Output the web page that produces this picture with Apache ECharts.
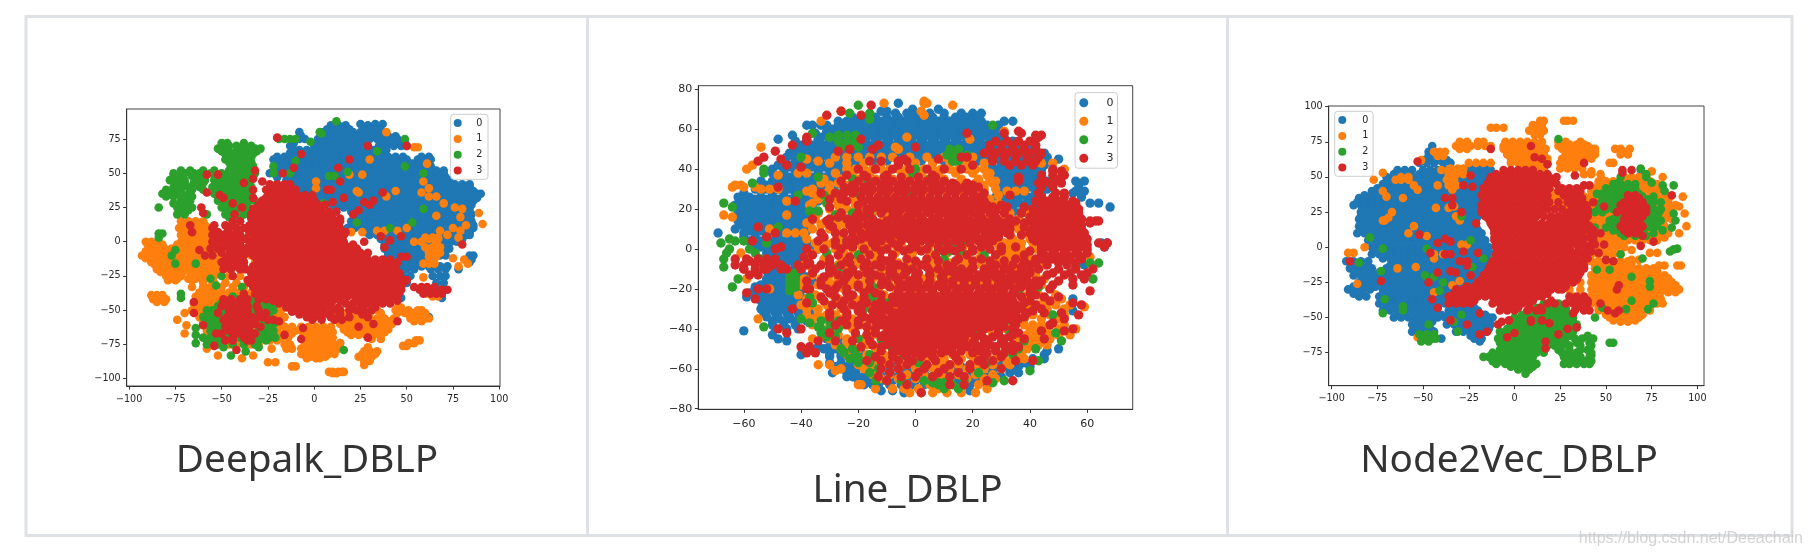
<!DOCTYPE html>
<html><head><meta charset="utf-8">
<style>html,body{margin:0;padding:0;background:#fff}#c{width:1810px;height:556px}</style>
<script src="https://cdn.jsdelivr.net/npm/echarts@6/dist/echarts.min.js"></script>
</head><body><div id="c"></div>
<script>
// Every row is [y, x, x, x ...].
const seriesNames=['0','1','2','3'];
const seriesColors=['#1f77b4','#ff7f0e','#2ca02c','#d62728'];
const captions=['Deepalk_DBLP','Line_DBLP','Node2Vec_DBLP'];
const watermark='https://blog.csdn.net/Deeachain';
const ticksX1=[-100,-75,-50,-25,0,25,50,75,100];
const ticksY1=[-100,-75,-50,-25,0,25,50,75];
const ticksX2=[-60,-40,-20,0,20,40,60];
const ticksY2=[-80,-60,-40,-20,0,20,40,60,80];
const ticksX3=[-100,-75,-50,-25,0,25,50,75,100];
const ticksY3=[-75,-50,-25,0,25,50,75,100];

const deepwalk_0=[[86,25,33,37],[85,9,13,17,29],[80,-8,5,9,13,17,21,25,29,33,37],
[75,-8,-5,2,6,10,14,18,22,26,30,34,38,42,45],[70,-13,0,4,8,12,16,20,24,35,39,43,47,50],
[65,-13,-9,-6,-2,2,6,10,14,18,22,26,30,34,38],
[60,-22,-18,-14,-10,-6,-2,2,6,10,14,18,22,26,30,34,38,42,46,50,56,60,63],
[55,-21,-17,-13,-9,-5,-1,3,7,11,15,19,23,27,31,35,39,43,47,51,55,59,63],
[50,-24,-20,-16,-12,-8,-4,0,4,8,12,16,20,24,28,32,36,40,44,48,52,56,60,64,68,70],
[45,-15,-11,-7,-3,1,5,9,13,17,21,25,29,33,37,41,45,49,53,57,61,65,69,73],
[40,-10,-6,-2,2,6,10,14,18,22,26,30,34,38,42,46,50,54,58,62,66,70,73,77,81,84],
[35,-4,0,4,8,12,16,20,24,28,32,36,40,44,48,52,56,60,64,68,72,76,80,84,88,90],
[30,2,6,10,14,18,22,26,30,34,38,42,46,50,54,58,62,66,70,74,78,82,86],
[25,12,16,20,24,28,32,36,40,44,48,52,56,60,64,68,72,76,80,84],
[20,22,26,30,34,38,42,46,50,54,58,62,66,70,74,78,82,85],
[15,20,24,28,32,36,40,44,48,52,56,60,64,68,72,76,80,85],
[10,18,22,26,30,34,38,42,46,50,54,58,62,66,70,74,78,82,86],
[5,30,34,38,42,46,50,54,58,62,66,70,74,78,82,84],
[0,38,42,46,50,54,58,62,66,70,74,77],[-5,38,42,46,50,54,58,62,66,70,73],
[-10,40,44,48,52,56,60,64,68,71,84,86],[-15,42,46,50,54,58,84],[-20,46,50,54,63,67,71,78],
[-25,48,52,64,68,71],[-30,50,66,70],[-35,68],[-41,47,69],[3,-36],[-36,-60],[-57,-19],[-74,-36,14],[-55,62]];
const deepwalk_0_fill=[[82,7,11,15,19,27,31,35],[77,-7,4,8,12,16,20,24,28,32,36,40,44],[72,-11,2,6,10,14,18,22,26,37,41,45,49],[67,-11,-8,-4,0,4,8,12,16,20,24,28,32,36,39],
[62,-20,-16,-12,-8,-4,0,4,8,12,16,20,24,28,32,36,40,44,48,58,62],[57,-19,-15,-11,-7,-3,1,5,9,13,17,21,25,29,33,37,41,45,49,53,57,61],
[52,-22,-18,-14,-10,-6,-2,2,6,10,14,18,22,26,30,34,38,42,46,50,54,58,62,66,70],[47,-20,-13,-9,-5,-1,3,7,11,15,19,23,27,31,35,39,43,47,51,55,59,63,67,71],
[42,-12,-8,-4,0,4,8,12,16,20,24,28,32,36,40,44,48,52,56,60,64,68,72,76,80,84],[37,-6,-2,2,6,10,14,18,22,26,30,34,38,42,46,50,54,58,62,66,70,74,78,82,86],
[32,0,4,8,12,16,20,24,28,32,36,40,44,48,52,56,60,64,68,72,76,80,84,88],[27,10,14,18,22,26,30,34,38,42,46,50,54,58,62,66,70,74,78,82,85],
[22,20,24,28,32,36,40,44,48,52,56,60,64,68,72,76,80,84],[17,22,26,30,34,38,42,46,50,54,58,62,66,70,74,78,82,84],[12,20,24,28,32,36,40,44,48,52,56,60,64,68,72,76,80,84,86],
[7,28,32,36,40,44,48,52,56,60,64,68,72,76,80,84],[2,36,40,44,48,52,56,60,64,68,72,76,80],[-3,38,42,46,50,54,58,62,66,70,72],[-8,40,44,48,52,56,60,64,68,70],[-13,42,46,50,54,58,60,85],[-18,46,50,54,58,62,68,72]];

const deepwalk_1=[[15,-72,-68,-64,-60],[10,-73,-69,-65,-61,-57],[5,-72,-68,-64,-60,-56,-52,-46,-40,-34,-28],
[0,-91,-88,-84,-72,-68,-64,-60,-56,-52,-46,-40,-34,-28],[-5,-89,-85,-81,-77,-73,-69,-65,-61,-57,-53,-50,-44,-38,-32],
[-10,-93,-90,-86,-82,-78,-74,-70,-66,-62,-58,-54,-47,-40,-34],[-15,-88,-84,-80,-76,-72,-68,-64,-60,-56,-52,-48,-44,-38,-32],
[-20,-85,-81,-77,-73,-69,-65,-61,-57,-53,-49,-45,-38],[-25,-80,-76,-72,-66,-62,-58,-54,-46,-40],[-28,-79,-75,-66],
[-33,-66,-60,-56,-50,-44,-38],[-39,-88,-85,-82],[-42,-87,-83,-80],[-44,-85,-81],
[-37,-62,-58,-54,-50,-46,-42,-38,-34],[-40,-64,-60,-56,-52,-48,-44,-40,-36,-32,-28],
[-45,-65,-61,-57,-53,-49,-45,-41,-37,-33,-29,-25,-22],[-50,-66,-62,-58,-54,-50,-46,-42,-38,-34,-30,-26,-22,-18],
[-55,-62,-58,-54,-50,-46,-42,-38,-34,-30,-26,-22,-18,-16],[-60,-60,-56,-52,-48,-44,-40,-36,-32,-28,-24,-20,-18],
[-65,-58,-54,-50,-46,-42,-38,-34,-30,-26,-22,-20,-14,-10],[-70,-55,-51,-47,-43,-39,-35,-31,-27,-23,-18,-14],
[-75,-50,-46,-42,-38,-34,-30,-16,-13],[-57,-74],[-52,-70],[-61,-69],[-67,-70],[-78,-58,-23,-15,-12],[-83,-52,-33],[-85,-39],
[-88,-25,-21],[-91,-12,-10],
[-62,-7,-3,1,5,9],[-66,-6,-2,2,6,10],[-70,-6,-2,2,6,10],[-74,-5,-1,3,7,10,14],[-78,-7,-3,1,5,9,13],[-82,-7,-4,0,4,8,11],[-85,-4,1,3],
[-95,8,10,13,15,16],[-96,10,12],
[-50,14,34,44,51,56,58],[-52,12,17,21,25,30,36,45,49,54,60],[-56,14,18,22,26,30,34,38,43,52,56,60,62],[-60,14,18,22,26,30,34,38,42],
[-64,16,20,24,28,32,36,40],[-68,20,24,28,32,36],[-71,31,36],[-48,45,47],[-72,55,57],[-74,51,54],[-76,48,50],
[-80,27,30,34],[-84,24,27,31],[-87,27,30],[-90,27],[-77,29],
[80,39],[69,54,56],[60,30],[57,61],[49,19,26],[44,1,59],[39,1,62],[37,23,44],[36,58,24],[33,39,62,66],[28,70],[25,76],[24,80],[19,66],[18,79],[21,89],[13,91],
[12,82],[10,75,50],[8,45,34,38,68,79],[7,20,26],[6,16],[5,72],[3,78,60,64,67],[2,67,62],[0,54,58,66],[-4,60,64,68],[-8,62,65,68],[-11,62,66],[-12,75],[-13,81],[-18,78],[-16,83,59,62,65],[-26,59],[-40,64,67],[-38,61]];
const deepwalk_1_fill=[[12,-71,-67,-63,-59],[8,-71,-67,-63,-59,-55],[3,-70,-66,-62,-58,-54,-50],[-2,-90,-86,-82,-74,-70,-66,-62,-58,-54,-50],[-7,-91,-87,-83,-79,-75,-71,-67,-63,-59,-55,-51],
[-12,-91,-87,-84,-80,-76,-72,-68,-64,-60,-56,-52],[-17,-86,-82,-78,-74,-70,-66,-62,-58,-54,-50],[-22,-83,-79,-75,-71,-67,-63,-59,-55,-51],[-27,-78,-74,-68,-64,-60,-56],
[-30,-60,-54,-48,-42,-30,-24],[-42,-62,-58,-54,-50],[-47,-63,-59,-55,-51,-20],[-52,-64,-60,-56,-20],[-57,-60,-56,-52,-18],[-62,-58,-54,-20,-16,-12],[-67,-56,-52,-22,-16,-12],[-72,-52,-48,-44,-24,-20],
[-64,-3,1,5,9],[-68,-4,0,4,8],[-72,-3,1,5,9],[-76,-3,1,5,9,13],[-80,-5,-1,3,7,11],[-84,-2,2,6],[-58,16,20,24,28,32,36,40],[-62,16,20,24,28,32,36,40],[-66,18,22,26,30,34,38],[-82,26,29,33],[-54,52,58,60],[-58,54,58]];

const deepwalk_2=[[72,-50,-47,-38],[68,-52,-47,-40,-36,-32,-29],[64,-48,-44,-40,-37,-33],[60,-48,-44,-40,-36],[55,-45,-41,-37,-33,-22],
[50,-76,-70,-65,-62,-56,-50,-45,-41,-37,-32,-22,-13],[45,-78,-74,-70,-63,-59,-54,-50,-46,-42,-38,-34],
[40,-76,-72,-68,-62,-55,-50,-46,-42,-38,-34],[35,-82,-78,-74,-68,-54,-50,-46,-42,-38,-34],[30,-72,-67,-52,-47,-42,-37,-32],
[25,-84,-74,-70,-66,-50,-46,-42,-38],[20,-74,-70,-58,-48,-44,-38,-30],[75,-19,-16,-13,-10],[73,-2],[80,3],[79,4],[88,12],[66,34],[75,49],[55,49],[50,59],[24,59],[14,53],[10,41],[14,23],[28,5],[48,8,11],[51,18],[59,-10],[21,-4],[6,-84,-82],[3,-84],[-6,-75],[-10,-77],[-16,-75,-64],[-27,-56],[-32,-53],[-25,-50],[-38,-72],[-41,-72],[-33,-39],[-79,16],
[-40,-44,-38,-32,-28],[-45,-50,-44,-40,-34,-28,-24,-21],[-50,-58,-55,-48,-42,-36,-30,-25,-22],[-55,-60,-56,-52,-46,-38,-28,-24],[-60,-58,-54,-50,-44,-36,-28,-22],[-63,-64],[-65,-56,-52,-46,-40,-30,-26,-22],[-68,-64],[-70,-60,-56,-52,-48,-40,-34,-28,-24,-21],[-74,-64],[-75,-58,-52,-44,-38,-32],[-77,-49,-30],[-80,-37],[-83,-45]];
const deepwalk_2_fill=[[70,-50,-46,-42,-38,-34],[66,-50,-46,-42,-38,-34,-31],[62,-46,-42,-38,-34],[58,-46,-42,-38,-34],[52,-72,-67,-60,-54,-46,-42,-38,-34],[48,-76,-72,-66,-60,-52,-48,-44,-40,-36],
[43,-74,-70,-65,-60,-52,-48,-44,-40,-36],[38,-80,-76,-72,-66,-60,-52,-48,-44,-40,-36],[33,-80,-76,-70,-66,-52,-48,-44,-40,-36],[28,-76,-72,-68,-48,-44,-40,-36],[23,-72,-68,-46,-42,-36,-32],[18,-46,-40,-34],
[-42,-42,-36,-30],[-47,-52,-46,-38,-32,-26],[-52,-56,-50,-44,-38,-32,-26],[-57,-58,-54,-48,-42,-30,-26],[-62,-56,-52,-46,-38,-30,-24],[-67,-54,-48,-42,-34,-28,-24],[-72,-56,-50,-38,-30,-26]];

const deepwalk_3=[[76,-20],[70,29,50],[64,-7],[60,19],[54,-11,13],[52,-32],[50,-17],[49,-58,-52],[46,-33],[44,-28,14],[43,-38],
[42,-24,-20,-16,-13],[38,-33,-26,-22,-18,-14,-10,7,9],[36,-58,37],[34,-51,-25,-21,-17,-13,-9,-5,-1],[32,-49,-33,16],[30,-28,-24,-20,-16,-12,-8,-4,0,32],[29,10,27],[28,-44],[27,30],
[25,-61,-39,-28,-24,-20,-16,-12,-8,-4,0,4],[24,-33],[23,24],[21,-60],[20,-43,-34,-31,-27,-23,-19,-15,-11,-7,-3,1,5,9,21],
[15,-44,-40,-33,-29,-25,-21,-17,-13,-9,-5,-1,3,7,11,14],[12,-67],[10,-55,-46,-42,-38,-33,-29,-25,-21,-17,-13,-9,-5,-1,3,7,11,14],[7,-66],
[5,-55,-50,-45,-40,-31,-27,-23,-19,-15,-11,-7,-3,1,5,9,13,16],[4,36,47],[1,41],
[0,-55,-50,-44,-40,-35,-31,-27,-23,-19,-15,-11,-7,-3,1,5,9,13,16,27],[-2,21,80],[-4,38],
[-5,-56,-52,-46,-42,-38,-33,-29,-25,-21,-17,-13,-9,-5,-1,3,7,11,15,19,23],[-6,-62],
[-10,-59,-55,-46,-42,-38,-33,-29,-25,-21,-17,-13,-9,-5,-1,3,7,11,15,19,23,27],[-11,47,50],
[-15,-50,-46,-42,-38,-29,-25,-21,-17,-13,-9,-5,-1,3,7,11,15,19,23,27,31,35,39,45],
[-20,-49,-45,-40,-37,-31,-27,-23,-19,-15,-11,-7,-3,1,5,9,13,17,21,25,29,33,37,41,44],
[-25,-44,-33,-29,-25,-21,-17,-13,-9,-5,-1,3,7,11,15,19,23,27,31,35,39,43,46],
[-30,-35,-31,-27,-23,-19,-15,-11,-7,-3,1,5,9,13,17,21,25,29,33,37,41,45,48],
[-33,54,58,61,65],[-35,-31,-27,-23,-19,-15,-11,-7,-3,1,5,9,13,17,21,25,29,33,37,41,45,47,57,61,65,69,72],[-38,-38,-32,-30,59,63,66,69],
[-40,-26,-22,-18,-14,-10,-6,-2,2,6,10,14,18,22,26,30,34,38,42,45],[-42,-49,-45,-40,-36,-30,-26],[-44,-65,-16],
[-45,-19,-15,-11,-7,-3,1,5,9,17,21,25,29,33,37,41],[-47,-50,-44,-40,-36,-31],[-50,-11,-7,-3,1,5,10,14,19,23,27,31],[-51,-12],[-52,-65,-52,-44,-40,-36,-30,-26],
[-55,-4,0,4,9,13,19,29],[-57,-49,-44,-40,-36,-32,-25,-22,-1,4,11,15],[-58,-19,45],[-60,32],[-61,-60],[-62,-48,-43,-39,-35,-29,24],[-63,-6],[-67,-53,-50,-43,-40,-36,-32],[-68,-16],[-70,29],[-71,-7],[-72,-48,-44,-36,-34],[-76,-54],[-79,-42]];
const deepwalk_3_fill=[[40,-22,-18,-14],[32,-26,-22,-18,-14,-10,-6,-2],[27,-30,-26,-22,-18,-14,-10,-6,-2,2,6],[22,-32,-28,-24,-20,-16,-12,-8,-4,0,4,8,12],[17,-34,-30,-26,-22,-18,-14,-10,-6,-2,2,6,10,14],
[12,-54,-48,-44,-35,-31,-27,-23,-19,-15,-11,-7,-3,1,5,9,13],[7,-52,-47,-42,-35,-31,-27,-23,-19,-15,-11,-7,-3,1,5,9,13,17],[2,-52,-47,-42,-37,-33,-29,-25,-21,-17,-13,-9,-5,-1,3,7,11,15],
[-3,-54,-48,-44,-40,-35,-31,-27,-23,-19,-15,-11,-7,-3,1,5,9,13,17,21],[-8,-50,-44,-40,-36,-31,-27,-23,-19,-15,-11,-7,-3,1,5,9,13,17,21,25,29],
[-13,-48,-44,-40,-31,-27,-23,-19,-15,-11,-7,-3,1,5,9,13,17,21,25,29,33,37,41],[-18,-47,-42,-38,-33,-29,-25,-21,-17,-13,-9,-5,-1,3,7,11,15,19,23,27,31,35,39,43],
[-23,-34,-30,-26,-22,-18,-14,-10,-6,-2,2,6,10,14,18,22,26,30,34,38,42,46],[-28,-36,-32,-28,-24,-20,-16,-12,-8,-4,0,4,8,12,16,20,24,28,32,36,40,44,48,50],
[-33,-33,-29,-25,-21,-17,-13,-9,-5,-1,3,7,11,15,19,23,27,31,35,39,43,47],[-37,-28,-24,-20,-16,-12,-8,-4,0,4,8,12,16,20,24,28,32,36,40,44,46,60,64,68],
[-43,-22,-18,-14,-10,-6,-2,2,6,10,14,24,28,32,36,40,45],[-48,-15,-11,-7,-3,1,5,9,13,20,26,33],[-53,-8,-4,0,4,8,14,26],
[-45,-48,-42,-38],[-50,-46,-40,-36,-30],[-55,-47,-42,-38,-34,-28],[-60,-46,-42,-38,-32],[-65,-46,-40,-35],[-70,-44,-38]];

const line_0=[[73,-6],[70,-1,8],[69,-12,-10],[68,-7,-3,0,5,10,16,20,23],[64,-27,-24,-20,-16,-12,-8,-4,0,4,8,12,16,20,23,31,34],[62,-38,-36,-33],
[60,-29,-25,-21,-17,-13,-9,-5,-1,3,7,11,15,19,23,27],[57,-43],[56,-33,-29,-25,-21,-17,-13,-9,-5,-1,3,7,11,15,19,23,27,31],[55,-48],
[52,-40,-36,-32,-28,-24,-20,-16,-12,-8,-4,0,4,8,12,16,20,24,28,32,36,40],
[48,-44,-40,-36,-32,-28,-24,-20,-16,-12,-8,-4,0,4,8,12,16,20,24,28,32,36,40,45],[45,50],
[44,-46,-42,-38,-34,-30,-26,-22,-18,-14,-10,-6,-2,2,6,10,14,18,22,26,30,34,38,42,45],
[40,-50,-46,-42,-38,-34,-30,-26,-22,28,32,36,40,44],[36,-48,-44,-40,-36,-32,-28,30,34,38,42,44],
[32,-52,-48,-44,-40,-36,-32,-28,36,40,44,57],[34,56,59],[29,56,59],[28,-60,-50,-46,-42,-38,-34,-30,30,34,38,42,44,55],
[24,-61,-58,-54,-50,-46,-42,-38,-34,31,35,39,43],[23,61,64],[21,68],
[20,-62,-58,-54,-50,-46,-42,-38,30,34,38],[16,-60,-56,-52,-48,-44,-40,-36],[12,-61,-57,-53,-49,-45,-41,-37],[8,-69,-60,-56,-52,-48,-44,-40],
[4,-58,-54,-50,-46,-42,-38],[3,65,67],[0,-50,-46,-42,-38,-34],[1,66],[-4,-50,-46,-42,-38],[-8,-50,-46,-42,59],[-12,-48,-44,-40],[-16,-52,-48,-44,-40,-36],
[-20,-56,-52,-48,-44,-40],[-24,-59,-56,-52,-48,-44,-40],[-25,55],[-28,-52,-48,-44,-40,-36],[-31,55],[-32,-53,-49,-45,-41,-37],[-36,-50,-46,-42,-38],
[-40,-49,-45,-41],[-41,-60],[-43,-50],[-45,-48,-31,-27],[-46,-45],[-49,-34,-30,-26,-22],[-50,50],[-51,46],[-53,-40,-30,-26,-22,-18,45],[-55,45,41],
[-57,-30,-26,-22,-18,-14,-10,20,25,30,34,38],[-62,-29,-24,-21,-17,-13,-9,-5,-1,3,7,11,15,19,23,27,33,36],
[-66,-20,-16,-12,-8,-4,0,4,8,12,16,20,24,27],[-68,-15],[-71,-12,-8,-4,19],[-72,-4]];
const line_0_fill=[[66,-22,-18,-14,-10,-6,-2,2,6,10,14,18,22],[62,-31,-27,-23,-19,-15,-11,-7,-3,1,5,9,13,17,21,25,29],[58,-35,-31,-27,-23,-19,-15,-11,-7,-3,1,5,9,13,17,21,25,29],
[54,-42,-38,-34,-30,-26,-22,-18,-14,-10,-6,-2,2,6,10,14,18,22,26,30,34],[50,-42,-38,-34,-30,-26,-22,-18,-14,-10,-6,-2,2,6,10,14,18,22,26,30,34,38,42],
[46,-45,-41,-37,-33,-29,-25,-21,-17,-13,-9,-5,-1,3,7,11,15,19,23,27,31,35,39,43,46],[42,-48,-44,-40,-36,-32,-28,-24,-20,26,30,34,38,42,45],[38,-50,-46,-42,-38,-34,-30,-26,28,32,36,40,44],
[34,-54,-50,-46,-42,-38,-34,-30,30,34,38,42,46],[30,-56,-52,-48,-44,-40,-36,-32,30,34,38,42,46],[26,-62,-58,-54,-50,-46,-42,-38,-34,28,32,36,40,44,58],[22,-63,-60,-56,-52,-48,-44,-40,-36,30,34,38,42],
[18,-62,-58,-54,-50,-46,-42,-38,-34,32,36],[14,-62,-58,-54,-50,-46,-42,-38],[10,-63,-59,-55,-51,-47,-43,-39],[6,-60,-56,-52,-48,-44,-40],[2,-56,-52,-48,-44,-40,-36],[-2,-52,-48,-44,-40,-36],
[-6,-52,-48,-44,-40],[-10,-50,-46,-42],[-14,-50,-46,-42,-38],[-18,-54,-50,-46,-42,-38],[-22,-58,-54,-50,-46,-42],[-26,-54,-50,-46,-42,-38],[-30,-54,-50,-46,-42,-38],[-34,-52,-48,-44,-40],[-38,-50,-46,-42],
[-50,-32,-28,-24],[-54,-30,-26,-22,-18,-14],[-59,-28,-24,-20,-16,-12,-8,-4,0,4,8,12,16,20,24,28,32,36,40],[-64,-22,-18,-14,-10,-6,-2,2,6,10,14,18,22,26,30],[-68,-18,-13,-9,-5,-1,3,7,11,15,19,25]];
const line_0_more=[[25,-60,-56,-52,-48,-44,-40,-36],[21,-60,-56,-52,-48,-44,-40],[17,-60,-56,-52,-48,-44,-40,-36],[13,-60,-56,-52,-48,-44,-40],[9,-58,-54,-50,-46,-42,-38],[5,-56,-52,-48,-44,-40],[1,-54,-50,-46,-42,-38],[-3,-50,-46,-42,-38],[-7,-50,-46,-42],[-11,-52,-48,-44,-40],[-15,-52,-48,-44,-40],[-19,-56,-52,-48,-44,-40],[-23,-56,-52,-48,-44],[-27,-52,-48,-44,-40],[-31,-52,-48,-44,-40],[-35,-48,-44,-40],[29,-54,-50,-46,-42,-38,-34],[33,-50,-46,-42,-38,-34],[37,-46,-42,-38,-34,-30],[41,-44,-40,-36,-32,-28],
[47,-43,-39,-35,-31,-27,-23,-19,-15,-11,-7,-3,1,5,9,13,17,21,25,29,33,37,41],[51,-40,-36,-32,-28,-24,-20,-16,-12,-8,-4,0,4,8,12,16,20,24,28,32,36,40],[55,-38,-34,-30,-26,-22,-18,-14,-10,-6,-2,2,6,10,14,18,22,26,30],[59,-31,-27,-23,-19,-15,-11,-7,-3,1,5,9,13,17,21,25],[63,-25,-21,-17,-13,-9,-5,-1,3,7,11,15,19],
[43,30,34,38,42],[39,30,34,38,42],[35,32,36,40,44],[31,32,36,40,44],[27,30,34,38,42],[23,32,36,40],[19,34],[-60,-26,-22,-18,-14,-10,-6,-2,2,6,10,14,18,22,26,30,34],[-64,-24,-20,-16,-12,-8,-4,0,4,8,12,16,20,24,28]];

const line_1=[[74,3],[73,-11,3,4],[72,13],[69,-26,2],[67,3],[64,-33],[59,31],[56,-3],[55,19],[51,-54,-7],[50,-6],[45,-38],[44,-34],[43,48],[42,-57],[40,-59,52],[38,-41,-38],
[37,-48,25],[34,28],[32,-63,-61],[31,-64,-60,-56],[30,-54,-51,-48],[29,-38,32,35,38],[27,29],[24,-45],[22,-37],[17,-67,-45],[16,-64],[10,-51],[8,-45,-42],[-2,-61],[-4,61],[-15,-59],[-20,-51],
[-29,59],[-35,-55],[-40,56],[-43,54],[-45,-36],[-58,-34,-30],[-60,-26],[-61,-28],[-68,-19],[-70,-14,-8,-4,1,8,16,25],[-72,-2,2,6,11,16,21],
[46,-28,-24,-20,-16,-12,-8,-2,4,10,16,20],[40,-24,-18,-12,-6,0,6,12,18,24],[35,-32,-26,-20,-14,-8,-2,4,10,16,22,26],[30,-36,-30,-24,-18,-12,-6,0,6,12,18,24,28],
[25,-34,-28,-22,-16,-10,-4,2,8,14,20,26],[20,-30,-24,-18,-12,-6,0,6,12,18,24,30],[15,-35,-29,-23,-17,-11,-5,1,7,13,19,25,31,36],[10,-36,-30,-24,-18,-12,-6,0,6,12,18,24,30,36,40],
[5,-38,-32,-26,-20,-14,-8,-2,4,10,16,22,28,34,40],[3,31,33,35,37],[0,-34,-28,-22,-16,-10,-4,2,8,14,20,26,31,33,35,37,42],[-3,31,33,35,37],
[-5,-38,-32,-26,-20,-14,-8,-2,4,10,16,22,28,34,40,46],[-10,-36,-30,-24,-18,-12,-6,0,6,12,18,24,30,36,42],[-15,-39,-33,-27,-21,-15,-9,-3,3,9,15,21,27,33,39,45],
[-20,-37,-31,-25,-19,-13,-7,-1,5,11,17,23,29,35,41,47],[-25,-38,-33,-27,-21,-15,-9,-3,3,9,15,21,27,33,39,45,51],[-30,-38,-34,-30,-26,-20,-14,-8,-2,4,10,16,22,28,34,40,46,52],
[-35,-36,-33,-30,-26,-22,-16,-10,-4,2,8,14,20,26,32,38,44,50],[-38,38,41,44],[-40,-33,-28,-22,-16,-10,-4,2,8,14,20,26,32,40,43,46,50],[-43,39,42,45],
[-45,-30,-24,-18,-12,-6,0,6,12,18,24,30,36,41,44,47],[-48,40,43,46],[-50,-26,-20,-14,-8,-2,4,10,16,22,28,34,39],
[-55,-20,-14,-8,-2,4,10,16,22,28,34,36,38],[-60,-18,-12,-6,0,6,12,18,24,30],[-65,-12,-6,0,6,12,18,24,28],[-68,-20,-3,5,22]];
const line_1_fill=[[43,-30,-24,-18,-12,-6,0,6,12,18,24,44],[38,-28,-22,-16,-10,-4,2,8,14,20,26],[33,-33,-27,-21,-15,-9,-3,3,9,15,21,27],[28,-36,-31,-25,-19,-13,-7,-1,5,11,17,23],[23,-36,-31,-25,-19,-13,-7,-1,5,11,17,23,29],
[18,-34,-27,-21,-15,-9,-3,3,9,15,21,27,33,39],[13,-38,-32,-26,-20,-14,-8,-2,4,10,16,22,28,34,38],[8,-39,-33,-27,-21,-15,-9,-3,3,9,15,21,27,33,38],[3,-35,-29,-23,-17,-11,-5,1,7,13,19,25,41],
[-2,-37,-31,-25,-19,-13,-7,-1,5,11,17,23,29,39,44],[-8,-39,-33,-27,-21,-15,-9,-3,3,9,15,21,27,33,39,45],[-13,-36,-30,-24,-18,-12,-6,0,6,12,18,24,30,36,42],[-18,-40,-34,-28,-22,-16,-10,-4,2,8,14,20,26,32,38,44],
[-23,-41,-35,-29,-23,-17,-11,-5,1,7,13,19,25,31,37,43,49],[-28,-40,-36,-31,-23,-17,-11,-5,1,7,13,19,25,31,37,43,49,54],[-33,-38,-34,-31,-28,-24,-19,-13,-7,-1,5,11,17,23,29,35,41,47,52],
[-38,-36,-30,-25,-19,-13,-7,-1,5,11,17,23,29,35,52],[-43,-32,-27,-21,-15,-9,-3,3,9,15,21,27,33,47,50],[-48,-28,-23,-17,-11,-5,1,7,13,19,25,31,37],[-53,-24,-17,-11,-5,1,7,13,19,25,31,37],[-58,-20,-15,-9,-3,3,9,15,21,27,33],[-63,-15,-9,-3,3,9,15,21,27]];
const line_1_more=[[40,-21,-15,-9,-3,3,9,15,21],[32,-30,-24,-18,-12,-6,0,6,12,18,24],[22,-27,-21,-15,-9,-3,3,9,15,21,27],[12,-33,-27,-21,-15,-9,-3,3,9,15,21,27,33],[2,-31,-25,-19,-13,-7,-1,5,11,17,23,29],[-7,-30,-24,-18,-12,-6,0,6,12,18,24,30,36],[-17,-30,-24,-18,-12,-6,0,6,12,18,24,30,36,42],[-27,-28,-20,-14,-8,-2,4,10,16,22,28,34,40,46],[-37,-28,-22,-16,-10,-4,2,8,14,20,26,32],[-47,-24,-18,-12,-6,0,6,12,18,24,30,36,42],[-57,-16,-10,-4,2,8,14,20,26,32]];

const line_2=[[23,-67],[21,-64],[5,-65],[4,-63,-60],[3,-68],[0,-65,-58],[-2,-66,-56],[-5,-67,-54],[-9,-67],[-15,-62],[-19,-64],[72,-20],[68,-23,-16],[65,-16],[62,27],[58,-36],[56,-30],
[57,-27,-24,-21],[54,-27,-24,-21],[51,-26,-23,-20],[50,12,15],[47,11,14,18],[44,13,15],[46,-40],[40,-53,0],[38,-53,-1],[36,-34],[33,-57],[35,5],[35,-22,-17],[27,-41,-32,-1],[23,-31],[19,-37,-34],[17,-28],[16,-27],[11,-48],[4,-24],[3,-52,14],[-2,-31],
[-5,10],[-7,61,64],[-9,13,-27,56],[-11,-27],[-12,14,-44,-42],[-15,62,-44,-42],[-17,-44,-42],[-19,-15,41,43,-44,-42],[-21,36,-44],[-24,-37,-15],[-26,-5],[-27,-36,-10],[-33,48],[-35,-40],[-37,-37,31],[-39,-34,-53,23],[-36,-33,-30,-27],[-40,-33,-30,-27],[-42,-33,-30,22,49,33],[-44,-31,-28],[-46,38,51],[-50,42],
[-50,-26,-22],[-52,-25,-21],[-55,-23,-20],[-57,-20,-16,1,25],[-56,43],[-60,-13],[-61,40],[-62,-16,22],[-64,6],[-66,-14,-10,31],[-67,6,8,10,27],[-68,8,13],[-70,10,15],[-66,-5,3,17],[4,10,14,18],[-1,8,12,16,20],[-3,-20,24],[10,-8,2,26],[18,-26,-22,-16],[28,-26,-20],[-13,-15,-8,5],[-30,-18,-12,-2],[-45,-20,-12,6,24],[-50,-8,22,28,36],[-53,-16,-4,34]];

const line_3=[[72,-15.5],[69,-26],[67,-31,-19],[59,36],[58,31,18,37],[57,42,44],[56,-38,43],[55,-19,42],[54,-38,28,32,36,40],[52,-43,-13],[51,0],[50,-23,-15,26,30,34,38,42],[49,-49,-27],[46,-53,16,18,27,31,35,39,43],[45,-47,8,-4],
[44,-55,-3,-16,-12,-6],[42,-45,-6,20,33,37,41],[41,-40],[40,16,-20,-14,-8,-2,4,10,48],[39,48,51],[37,-24,-18,-10,6,44,48,52],[36,51,36],
[34,-26,-20,-14,-8,-2,4,10,36,45,49],[31,-48,-25,-18,-12,-6,0,6,12,17,22,44,48],[28,-28,-22,-16,-10,-4,2,8,14,20,24,49,52,43],[27,33],
[24,-42,-24,-18,-12,-6,0,6,12,18,24,42,46,50,55],[21,-30,-14,-8,-2,4,10,16,22,27,32,38,44,48,52],
[18,-26,-20,-12,-6,0,5,10,15,20,26,31,37,42,46,50,54,57],[14,-31,-23,-10,-5,-1,3,7,11,15,19,24,29,35,40,44,48,52,56,61,63,64],[13,61],
[11,-55,-29,-20,-15,-9,-4,0,4,8,12,16,20,26,30,38,42,46,50,54,57],[8,-49,-25,-19,-13,-8,-3,1,5,9,13,17,21,27,32,40,44,48,52,56,59],
[6,-52,-32,-22,-14,-9,-4,0,7,11,17,24,29,41,45,49,53,57],[4,-57,-28,-21,-12,-5,2,8,14,22,27,42,46,50,54,58],[3,64,67],[1,-47,66],[0,-49,-32,-18,-10,-2,4,12,20,26,44,48,52,56,60],
[-3,-36,-27,-16,-8,7,18,28,38,45,49,53,57],[-5,-63,-59,-55,-52,-49,-30,-19,-12,-3,4,15,23,35,42,47,52],[-8,-63,-60,-56,-53,-50,-47,-41,-38,-33,-26,-14,-6,2,11,28,34,40,46,53],
[-10,62,-60,-56,-52,-45,-35,-29,-22,-9,-1,8,16,20,24,31,37,43,50,56],[-13,-58,-55,-27,-20,-14,-4,5,14,18,22,26,30,35,46,52,58],[-15,55,59],
[-16,-33,-25,-10,1,10,17,21,25,29,33,39,44,50],[-20,-55,-52,-38,-37,-31,-24,-16,-6,-2,2,6,11,15,19,23,27,31,35,40,47],[-21,61],[-22,-59],
[-24,-33,-28,-18,-8,-4,0,4,8,12,16,20,24,28,32,37,45,50],[-25,-56],[-27,-38,55],[-28,-29,-22,-14,-9,-5,-1,3,7,11,15,19,23,27,31,35,42,58],[-30,-43],
[-32,-24,-19,-12,-7,-3,1,5,9,13,17,21,25,29,33,39,45,51],[-33,57],[-35,-16,-11,-8,-4,0,4,8,12,16,20,24,28,32,36,52],[-37,48],
[-38,-24,-20,-12,-8,-4,0,4,8,12,16,20,24,27,35,47],[-40,-48,-40,55],[-41,44,52],[-42,-45,-21,-14,-9,-5,-1,3,7,11,15,19,29,36],[-45,-10,-6,-2,2,6,10,14,17,24,31,38,45],[-46,-34],
[-49,-40,-37,-19,-12,-7,-3,1,5,9,13,18,23,28,33,36],[-52,-38,-35,-8,-4,0,4,9,13,20,25,31],[-56,-17,-12,-6,-1,7,15,22,27,35,41],[-60,-12,-6,3,10,19,30],[-64,-13,-5,0,6,12,17],[-66,25,34,-10],[-68,12,17,-3],[-72,2]];
const line_3_fill=[[33,-11,-5,1,7,13,18],[30,-21,-15,-9,-3,3,9,15,19],[26,-19,-13,-7,-1,5,11,17,22],[23,-15,-9,-3,3,9,15,21],[20,-17,-11,-5,1,7,13,19,24],[16,-18,-8,-3,2,8,13,17,23,28],[12,-17,-12,-7,-2,2,6,10,14,18,23,28,33],[9,-22,-16,-11,-6,-1,3,7,11,15,19,24,30],[6,-17,-12,2,5,14,21,27],[3,-15,-8,-1,5,11,19,25],
[-11,-16,-8,-3,5,12,19,27,33,40],[-14,-12,-7,0,9,15,19,23,28,33,38],[-18,-12,-4,0,4,8,13,17,21,25,29,33,37,43],[-22,-14,-6,-2,2,6,10,14,18,22,26,30,34,40],[-26,-12,-6,-2,2,6,10,14,18,22,26,30,34,40,47],[-30,-10,-3,1,5,9,13,17,21,25,29,33,37,44],[-34,-14,-8,-2,2,6,10,14,18,22,26,30,34,38],[-37,-10,-6,-2,2,6,10,14,18,22,26,30],[-40,-14,-8,-4,0,4,8,12,16,20,24,29,34],[-44,-12,-7,-3,1,5,9,13,17,21,27,33],[-47,-8,-4,0,4,8,12,16,20,25,30],[-51,-12,-6,-2,2,6,11,16,22,28,34],[-54,-14,-8,-3,2,6,14,24,30],
[20,41,45,49,53,57],[16,40,44,48,52,55],[12,43,47,51,55,58],[10,41,45,49,53,58],[6,43,47,51,55,59],[2,44,48,52,56,60],[-2,44,48,52,56,60],[-5,44,48,54,58],[-12,40,48,54,60],[-18,42,48,55],
[52,26,30,34,38,42],[48,24,28,32,36,40,44],[44,27,31,35,39,42],[33,43,47,51],[26,44,48,52],[22,46,50,54],
[25,-30,-26],[15,-36,-30,-24],[2,-28,-24],[-7,-37,-30,-23,-17,-8],[-12,-36,-30,-24],[-18,-33,-27,-20],[-22,-30,-24,-18],[-26,-32,-25,-18],[-30,-25,-19,-13],[-34,-30,-24,-18],[-38,-28],[-42,-30],[-46,-28,-22,-16],[-10,-60,-53,-47],[-6,-58,-50]];
const line_3_more=[[36,-17,-11,-5,1,7],[32,-22,-16,-10,-4,2,8,14,20],[29,-24,-18,-12,-6,0,6,12,18],[25,-16,-10,-4,2,8,14,20],[22,-20,-12,-6,0,6,12,18,25,30],[19,-16,-8,-2,4,8,12,18,22,28],[15,-15,-7,-2,6,12,17,22,27,33],[13,-20,-13,-3,1,5,9,15,21,26,31,38],[10,-13,-6,-2,2,6,10,14,18,22,28,33],[7,-16,-11,-6,-2,3,9,15,19,26,33,37],[5,-19,-9,-2,4,10,16,22],[1,-22,-14,-6,0,8,16,23,30,35],[-1,-12,-4,2,10,14,20,30,40],
[-6,-24,-10,0,8,14,20,26,31,38],[-9,-18,-12,-4,4,13,20,26,31,37],[-12,-23,-17,-9,1,10,16,24,28,37],[-16,-16,-6,-2,5,13,31,36,42],[-19,-20,-9,-4,0,4,9,17,25,29,37,41],[-23,-22,-12,-6,-2,2,6,10,14,18,22,26,30,34,42],[-27,-17,-12,-7,-3,1,5,9,13,17,21,25,29,33,38],[-31,-20,-15,-9,-5,-1,3,7,11,15,19,23,27,31,35,41],[-33,-12,-6,-2,3,7,11,15,19,23,27,31,35],[-36,-20,-14,-6,-2,2,6,10,14,18,22,26,30,34],[-39,-17,-10,-6,-2,2,6,10,14,18,22,26,31],[-43,-17,-11,-7,-3,1,5,9,13,17,23,29,34],[-48,-15,-10,-5,-1,3,7,11,15,21,26,31,34],[-58,-9,-3,4,12,19,24],[-62,-9,1,8,15],
[23,44,48,52,56],[19,44,48,52,56],[15,42,46,50,54,58],[9,42,46,50,54,58],[5,41,45,49,53,57,60],[1,46,50,54,58],[-4,46,50,54,58],[-7,42,50,56],
[28,-33,-25],[16,-27,-21],[12,-30,-23],[8,-33,-28],[4,-34,-24],[0,-38,-26],[-4,-39,-23],[-10,-40,-30],[-14,-32,-24],[-16,-38],[-20,-28],[-24,-23],[-28,-26,-19],[-32,-30],[-36,-26]];

const node2vec_0=[[72,-45],[68,-47,-44],[65,-47,-44],[60,-52,-48,-44,-39,-35],[57,-24,-20,-16],
[55,-64,-60,-56,-50,-46,-42,-38,-34,-30,-26,-22,-17,-13],[50,-70,-66,-62,-58,-54,-50,-46,-42,-38,-34,-30,-26,-22,-18,-14,-10],
[45,-72,-68,-64,-60,-56,-52,-48,-44,-40,-36,-32,-28,-24,-20,-16,-12],[40,-78,-74,-70,-66,-62,-58,-54,-50,-46,-42,-38,-34,-30,-26,-22,-18,-14],
[35,-85,-81,-77,-73,-69,-65,-61,-57,-53,-49,-45,-41,-37,-33,-29,-25,-21,-17,-15],[30,-88,-84,-80,-76,-72,-68,-64,-60,-56,-52,-48,-44,-40,-36,-32,-28,-24,-20,-16],
[25,-84,-80,-76,-72,-68,-64,-60,-56,-52,-48,-44,-40,-36,-32,-28,-24,-20,-18],[20,-85,-81,-77,-73,-69,-65,-61,-57,-53,-49,-45,-41,-37,-33,-29,-25,-21],
[15,-85,-81,-77,-73,-69,-65,-61,-57,-53,-49,-45,-41,-37,-33,-29,-25,-21],[10,-86,-82,-78,-74,-70,-66,-62,-58,-54,-50,-46,-42,-38,-34,-30,-26,-22,-18],
[5,-80,-76,-72,-68,-64,-60,-56,-52,-48,-44,-40,-36,-32,-28,-24,-20,-16],[0,-78,-74,-70,-66,-62,-58,-54,-50,-46,-42,-38,-34,-30,-26,-22,-18,-14],
[-5,-78,-74,-70,-66,-62,-58,-54,-50,-46,-42,-38,-34,-30,-26,-22,-18,-14,-12],[-10,-92,-88,-84,-80,-66,-62,-58,-54,-50,-46,-42,-38,-34,-30,-26,-22,-18,-14],
[-15,-90,-86,-82,-78,-70,-66,-62,-58,-54,-50,-46,-42,-38,-34,-30,-26,-22,-18,-14],[-20,-88,-84,-80,-76,-72,-68,-64,-60,-56,-52,-48,-44,-40,-36,-32,-28,-24,-20,-15],
[-25,-85,-81,-77,-73,-69,-65,-61,-57,-53,-49,-45,-41,-37,-33,-29,-25,-21],[-30,-91,-87,-83,-79,-72,-68,-64,-60,-56,-52,-48,-44,-40,-36,-32,-28,-25],
[-35,-85,-81,-74,-70,-66,-62,-58,-54,-50,-46,-42,-38,-34,-30],[-40,-74,-70,-66,-62,-58,-54,-50,-46,-42,-38,-30,-26],
[-45,-72,-68,-64,-60,-56,-52,-48,-44,-36,-32,-28,-24,-20],[-50,-66,-62,-58,-54,-50,-46,-42,-38,-34,-30,-26,-22,-18,-14,-12],
[-55,-56,-52,-47,-37,-33,-29,-25,-21,-17,-13],[-60,-56,-52,-48,-44,-32,-28,-24,-20,-16],[-65,-45,-40,-22,-18],[-67,-19],[55,69]];
const node2vec_0_fill=[[62,-50,-46,-42,-37],[52,-66,-62,-58,-52,-48,-44,-40,-36,-32,-28,-24,-20,-16,-12],[47,-70,-66,-62,-58,-54,-50,-46,-42,-38,-34,-30,-26,-22,-18,-14],[42,-75,-71,-67,-63,-59,-55,-51,-47,-43,-39,-35,-31,-27,-23,-19,-15],
[37,-82,-78,-74,-70,-66,-62,-58,-54,-50,-46,-42,-38,-34,-30,-26,-22,-18],[32,-86,-82,-78,-74,-70,-66,-62,-58,-54,-50,-46,-42,-38,-34,-30,-26,-22,-18],[27,-82,-78,-74,-70,-66,-62,-58,-54,-50,-46,-42,-38,-34,-30,-26,-22,-18],
[22,-84,-80,-76,-72,-68,-64,-60,-56,-52,-48,-44,-40,-36,-32,-28,-24,-20],[17,-83,-79,-75,-71,-67,-63,-59,-55,-51,-47,-43,-39,-35,-31,-27,-23],[12,-84,-80,-76,-72,-68,-64,-60,-56,-52,-48,-44,-40,-36,-32,-28,-24,-20],
[7,-78,-74,-70,-66,-62,-58,-54,-50,-46,-42,-38,-34,-30,-26,-22,-18],[2,-76,-72,-68,-64,-60,-56,-52,-48,-44,-40,-36,-32,-28,-24,-20,-16],[-3,-76,-72,-68,-64,-60,-56,-52,-48,-44,-40,-36,-32,-28,-24,-20,-16],
[-8,-72,-68,-64,-60,-56,-52,-48,-44,-40,-36,-32,-28,-24,-20,-16],[-13,-88,-84,-80,-68,-64,-60,-56,-52,-48,-44,-40,-36,-32,-28,-24,-20,-16],[-18,-86,-82,-78,-74,-70,-66,-62,-58,-54,-50,-46,-42,-38,-34,-30,-26,-22,-18],
[-23,-83,-79,-75,-71,-67,-63,-59,-55,-51,-47,-43,-39,-35,-31,-27,-23],[-28,-88,-84,-80,-76,-70,-66,-62,-58,-54,-50,-46,-42,-38,-34,-30,-26],[-33,-88,-83,-72,-68,-64,-60,-56,-52,-48,-44,-40,-36,-32,-28],
[-38,-72,-68,-64,-60,-56,-52,-48,-44,-40,-32,-28],[-43,-70,-66,-62,-58,-54,-50,-46,-42,-34,-30,-26,-22],[-48,-64,-60,-56,-52,-48,-44,-40,-36,-32,-28,-24,-20,-16],[-53,-54,-50,-45,-35,-31,-27,-23,-19,-15],[-58,-54,-50,-46,-30,-26,-22,-18,-14],[-63,-50,-46,-24,-20]];

const node2vec_1=[[85,-13,-10,-6],[90,14,16,27,29,32],[87,10,13,15],[83,8,12,16],[80,11,14],
[75,-30,-26,-20,-17,-5,-1,3,7,11,15,24,28,36],[72,-32,-28,-24,-20,-16,-13,-6,-2,2,6,10,14,24,28,32,36,40],[70,-30,-26,-6,-2,2,6,10,14,17,26,30,34,38,42,44,55,58,63],[66,-4,0,4,8,12,16,28,32,36,40,44,58,62],
[60,-25,-21,-17,-13,-2,2,6,10,14,18,25,29,33,37,52,54],[56,-35,-31,-28,8,12,16,25,29,33,37],[55,-40,-36],[52,-36,-32,-28,42,38,47],[48,-77,-65,-62,-58,-37,-33,48],[53,-72],[50,-62,-58,-34,81],[54,75,42],
[65,-42,-39],[68,-44,-41,-38],[62,-51],[44,-55,-36,-32,-42],[41,-53,-34],[40,-72],[36,-70],[35,-61],[28,-43,-36],[29,-33],
[22,-32],[19,-72,-71,-30],[21,-69],[25,-67],[15,-55],[10,-58],[8,-48],[2,-29,-26],[0,-82],[-4,-91,-88],[-5,-39,-44],[-8,-44],[-15,-64],[-14,-54],[-24,-30],[-26,-86],[-27,-34],[-32,-44],[-64,-53],
[50,60,64,68,72],[45,46,50,54,58,62,66,70,74,78],[40,42,46,50,54,58,62,66,70,74,78,82],[36,92,38,42,46,50,54,58,62,66,70,74,78,82,85],[30,20,26,36,40,44,48,52,56,60,64,68,72,76,80,84,88],[29,90],
[25,28,38,42,46,50,54,58,62,66,70,74,78,82,86],[24,93],[20,42,46,50,54,58,62,66,70,74,78,82,86],[15,94,42,46,50,54,58,62,66,70,74,78,82],[10,44,48,52,56,60,64,68,72,76,80,84,90],
[5,46,50,54,58,62,66,70,74,78],[0,44,48,52,56,60],[-2,64],[-4,74,78],[-9,64,68],[-13,79,82,91,89],
[-5,42,46,50,54,58],[-10,42,46,50,54,58,62],[-15,44,48,52,56,60,64,68,72,76],[-20,42,46,50,54,58,62,66,70,74,78,82],[-25,42,46,50,54,58,62,66,70,74,78,82,86],
[-30,42,46,50,54,58,62,66,70,74,78,82,86,90],[-35,42,46,50,54,58,62,66,70,74,78],[-40,42,46,50,54,58,62,66,70,74,78,81],[-45,46,50,54,58,62,66,70,74],[-50,52,56,60,64,68],[-53,58,62],
[45,-14],[40,-10,20,25,30,35],[35,20,24,28,32],[30,26],[10,38,30],[-2,38],[-12,38],[-20,34],[-30,30,36]];
const node2vec_1_fill=[[73,0,4,8,12,26,30,34,38],[68,-4,0,4,8,12,16,28,32,36,40,44,60],[63,-2,2,6,10,14,18,26,30,34,38,42],[58,4,8,12,16,27,31,35],[47,46,50,54,58,62,66,70,74],[42,44,48,52,56,60,64,68,72,76,80],
[33,40,44,48,52,56,60,64,68,72,76,80,84],[27,40,44,48,52,56,60,64,68,72,76,80,84],[22,44,48,52,56,60,64,68,72,76,80,84],[17,44,48,52,56,60,64,68,72,76,80],[7,46,50,54,58,62,66,70,74,78,82],[2,46,50,54,58],
[-12,44,48,52,56,60,64],[-17,46,50,54,58,62,66,70,74,78],[-22,44,48,52,56,60,64,68,72,76,80,84],[-27,44,48,52,56,60,64,68,72,76,80,84,88],[-32,44,48,52,56,60,64,68,72,76,80,84,88],[-37,44,48,52,56,60,64,68,72,76,80],[-43,46,50,54,58,62,66,70,74],[-48,50,54,58,62,66,70],[-52,54,58,62,66],
[38,22,26,30],[33,24,28,32,36],[28,30,36],[20,38],[5,38],[-8,40],[-25,36],[-35,32,38]];

const node2vec_2=[[77,24],[56,69],[52,72],[50,58,72],[46,57,75],[44,81,87],[40,82,52,56,62],[38,45,48,52,56,60,68],[36,76,64],[34,50,54,62,73],[31,46,74],[29,52,56],[25,79,44,48,56],[24,87],[22,74,78],[19,88,52,62,74,80],[17,56,64,76],[14,86,44,50,60,72,76],[12,81,54,70],[10,76,64,58],[7,-79],[-1,89,-72,-48],[-1.5,87],[-3,85],[-5,58],[-8,70,-17,-11],[5,-24],[22,-29],[34,18],
[-11,-85],[-14,-23],[-16,45,52],[-17,-73],[-20,-49],[-21,-44,64],[-24,74],[-25,-39],[-26,-20],[-28,74],[-31,-41],[-37,-71],[-38,64],[-40,76],[-42,-61],[-43,48],[-44,61,73],[-45,-61],[-47,-72],[-48,-29],[-50,44],[-53,-33],[-55,-47],[-60,-31],[-62,-52,-48,-44],[-65,-50,-46,-43],[-67,-51,-47],[-68,52,54],
[-40,16,20,24],[-45,8,12,16,20,24,28],[-50,0,4,8,12,16,20,24,28,32],[-55,-2,2,6,10,14,18,22,26,30,34],[-60,-8,-4,0,4,8,12,16,20,24,28,32],
[-65,-9,-5,-1,3,7,11,15,19,23,27,33,37,41,43],[-70,-6,-2,2,6,10,14,18,22,26,30,36,42],[-75,-12,-8,-4,0,4,8,12,16,26,30,34,42],[-78,-17,-14,-10,-6,-2,2,6,10,27,32,36,41],[-83,-10,-5,0,4,8,12,27,30,34,38,41],[-87,2,6,8],[-90,6]];
const node2vec_2_fill=[[45,54,58,62,66],[42,50,54,58,62,66],[36,48,52,56,60,66,70],[32,48,52,58,64,76,80],[27,46,50,54,58,76,80],[20,54,58,72,76],[15,52,56,62,74,78],[8,60,66,72],
[-43,12,16,20,24,28],[-48,4,8,12,16,20,24,28,32],[-53,0,4,8,12,16,20,24,28,32],[-58,-4,0,4,8,12,16,20,24,28,32],[-63,-6,-2,2,6,10,14,18,22,26,30,40],[-68,-8,-4,0,4,8,12,16,20,24,28,34,41],[-73,-8,-4,0,4,8,12,16,24,30,36,40],[-77,-12,-8,-4,0,4,8,30,34,42],[-81,-12,-8,-4,0,4,8,30,34,38,42],[-85,-2,2,6,10]];

const node2vec_3=[[72,9],[70,-13],[64,11],[63,15],[61,-53],[60,38],[59,18],[55,-6,-2,2,6,10,64,59],[53,59],[51,-24,33],[50,-13,-9,-5,-1,3,7,11,15,19,23],
[45,-15,-11,-7,-3,1,5,9,13,17,19,23],[44,-28,41,38],[43,-23],[40,-16,-12,-8,-4,0,4,8,12,16,24,28,32,36],[37,86],[35,-17,-13,-9,-5,-1,3,7,11,15,29,33,37,-38,-34,63,68],
[32,43],[30,-18,-14,-10,-6,-2,2,6,10,14,16,31,35,39,58,62,66,70,-34],[29,49],[25,-18,-14,-10,-6,-2,2,6,10,14,30,34,38,40,-29,56,60,64,68,72],
[20,-14,-10,-6,-2,2,6,10,20,24,28,32,36,60,64,68],[17,-21],[15,-12,-8,-4,0,4,8,12,16,20,24,28,32,36,41,58,62,66,70],[10,-11,-7,-3,1,5,9,13,17,21,25,29,33,37,43,47,62,66],
[9,-52],[8,70],[5,-11,-7,-3,1,5,9,13,17,21,25,29,33,37,43],[4,-35,76],[6,-38],[3,-42],[2,49],[1,69],
[0,-10,-6,-2,2,6,10,14,18,22,26,30,35,40],[-3,-28],[-4,-46,-20,46],[-5,-38,-35,-10,-6,-2,2,6,10,14,18,22,26,30,34,38],[-9,50],[-10,-90,-30,-26,-12,-8,-4,0,4,8,12,16,20,24,28,32,36,54],
[-13,-26],[-15,-14,-10,-6,-2,2,6,10,14,18,22,26,30,34,38],[-17,-35],[-18,-42,-32],
[-20,-24,-17,-13,-9,-5,-1,3,7,11,15,19,23,27,31,35],[-24,-73],[-25,-47,-20,-16,-12,-8,-4,0,4,8,12,16,20,24,28,32],[-27,57],
[-30,-32,-28,-24,-20,-16,-12,-8,-4,0,4,8,12,16,20,24,26,56],[-35,-36,-32,-28,-24,-20,-16,-12,-8,-4,0,4,8,12,15,30,34,38],[-37,-45],
[-40,-36,-32,-28,-24,-12,-8,-4,0,4,8,18,22,28,32,36,40,47],[-43,-42],[-45,-8,-4,0,7,12,15,33,38,41,51,57],[-47,-19,32,55],[-52,-35,-3,9,15],[-53,9,-7],[-54,19],[-55,-26,-9],[-57,34],[-58,29],[-60,-15],[-61,0],[-62,-19,24],[-64,-4],[-67,17],[-72,17]];
const node2vec_3_fill=[[52,-10,-6,-2,2,6,10,14,18],[47,-14,-10,-6,-2,2,6,10,14,18,22],[42,-17,-13,-9,-5,-1,3,7,11,15,19,26,30,34],[37,-18,-14,-10,-6,-2,2,6,10,14,18,27,31,35],[32,-17,-13,-9,-5,-1,3,7,11,15,19,24,29,33,37],[27,-18,-14,-10,-6,-2,2,6,10,14,18,22,26,32,36,40],
[22,-16,-12,-8,-4,0,4,8,12,16,20,24,28,32,36,40],[17,-13,-9,-5,-1,3,7,11,15,19,23,27,31,35,39],[12,-11,-7,-3,1,5,9,13,17,21,25,29,33,37,41,43],[7,-11,-7,-3,1,5,9,13,17,21,25,29,33,37,41,43],[2,-10,-6,-2,2,6,10,14,18,22,26,30,34,38,42,44],[-3,-9,-5,-1,3,7,11,15,19,23,27,31,35,39,42],
[-8,-10,-6,-2,2,6,10,14,18,22,26,30,34,38,40],[-13,-13,-9,-5,-1,3,7,11,15,19,23,27,31,35,38],[-18,-15,-11,-7,-3,1,5,9,13,17,21,25,29,33,36],[-23,-18,-14,-10,-6,-2,2,6,10,14,18,22,26,30,34],[-28,-26,-22,-18,-14,-10,-6,-2,2,6,10,14,18,22,26,28],[-33,-33,-29,-25,-21,-17,-13,-9,-5,-1,3,7,11,15,18],
[-38,-34,-30,-26,-22,-10,-6,-2,2,6,10,20,32,36,40],[-43,-6,-2,2,8,14,34,38],[28,60,64,68,72],[32,60,66,70],[22,62,66,70],[18,60,64,68],[12,60,64,68],[37,62,66]];

const ax={color:'#262626',font:'"DejaVu Sans"'};
function pairs(rows){return rows.flatMap(([y,...xs])=>xs.map(x=>[x,y]));}
function minus(v){return String(v).replace('-','\u2212');}
const panels=[
 {grid:{left:126.7,top:109,width:373.3,height:277},x:[-101.3,100.4],y:[-105.3,96.9],tx:ticksX1,ty:ticksY1,fs:9.6,sym:8.6,mx:8,data:[[...deepwalk_0,...deepwalk_0_fill],[...deepwalk_1,...deepwalk_1_fill],[...deepwalk_2,...deepwalk_2_fill],[...deepwalk_3,...deepwalk_3_fill]],
  lg:{left:450.7,top:114.3,itemWidth:24,itemHeight:8,itemGap:3.8,lh:12,padding:[2.8,5.6,2.8,3],tp:1.6}},
 {grid:{left:698.3,top:85.7,width:434.4,height:323.6},x:[-75.9,75.9],y:[-80.3,81.8],tx:ticksX2,ty:ticksY2,fs:11,sym:9.4,mx:9,data:[[...line_0,...line_0_fill,...line_0_more],[...line_1,...line_1_fill,...line_1_more],line_2,[...line_3,...line_3_fill,...line_3_more]],
  lg:{left:1075,top:92.7,itemWidth:26,itemHeight:9,itemGap:4.5,lh:14,padding:[3,4,3,4.3],tp:4.7}},
 {grid:{left:1328.7,top:106,width:375.3,height:279.7},x:[-101.6,103.6],y:[-98.5,100.5],tx:ticksX3,ty:ticksY3,fs:9.6,sym:8.6,mx:8,data:[[...node2vec_0,...node2vec_0_fill],[...node2vec_1,...node2vec_1_fill],[...node2vec_2,...node2vec_2_fill],[...node2vec_3,...node2vec_3_fill]],
  lg:{left:1334.7,top:111.3,itemWidth:20,itemHeight:8,itemGap:3.8,lh:12,padding:[2.8,4.7,2.8,3.6],tp:5}}
];
const option={animation:false,backgroundColor:'#fff',
 textStyle:{fontFamily:'"DejaVu Sans"'},
 grid:panels.map(p=>Object.assign({show:true,borderColor:'#444',borderWidth:1,containLabel:false},p.grid)),
 xAxis:panels.map((p,i)=>({type:'value',gridIndex:i,min:p.x[0],max:p.x[1],splitLine:{show:false},
  axisLine:{onZero:false,lineStyle:{color:'#333'}},
  axisTick:{show:true,length:3.5,customValues:p.tx,lineStyle:{color:'#333'}},
  axisLabel:{customValues:p.tx,fontSize:p.fs,color:ax.color,fontFamily:ax.font,margin:p.mx,formatter:minus,hideOverlap:false}})),
 yAxis:panels.map((p,i)=>({type:'value',gridIndex:i,min:p.y[0],max:p.y[1],splitLine:{show:false},
  axisLine:{onZero:false,lineStyle:{color:'#333'}},
  axisTick:{show:true,length:3.5,customValues:p.ty,lineStyle:{color:'#333'}},
  axisLabel:{customValues:p.ty,fontSize:p.fs,color:ax.color,fontFamily:ax.font,margin:6,formatter:minus,hideOverlap:false}})),
 legend:panels.map(p=>({data:seriesNames.map(n=>({name:n,icon:'circle'})),orient:'vertical',left:p.lg.left,top:p.lg.top,itemWidth:p.lg.itemWidth,itemHeight:p.lg.itemHeight,itemGap:p.lg.itemGap,padding:p.lg.padding,
  backgroundColor:'rgba(255,255,255,0.85)',borderColor:'#ccc',borderWidth:1,borderRadius:3,selectedMode:false,
  textStyle:{fontSize:p.fs,color:ax.color,fontFamily:ax.font,lineHeight:p.lg.lh,padding:[0,0,0,p.lg.tp]}})),
 series:panels.flatMap((p,i)=>p.data.map((rows,k)=>({type:'scatter',name:seriesNames[k],xAxisIndex:i,yAxisIndex:i,data:pairs(rows),symbol:'circle',symbolSize:p.sym,
  itemStyle:{color:seriesColors[k],opacity:1},silent:true,z:2+k,emphasis:{disabled:true}}))),
 graphic:[
  {type:'rect',silent:true,z:-1,shape:{x:26,y:16.5,width:1766,height:519},style:{fill:'none',stroke:'#dee2e6',lineWidth:3}},
  {type:'line',silent:true,z:-1,shape:{x1:587.5,y1:16,x2:587.5,y2:536},style:{stroke:'#dee2e6',lineWidth:3}},
  {type:'line',silent:true,z:-1,shape:{x1:1227.5,y1:16,x2:1227.5,y2:536},style:{stroke:'#dee2e6',lineWidth:3}},
  {type:'text',silent:true,z:10,x:307,y:461,style:{text:captions[0],font:'38.7px "Noto Sans"',fill:'#333',textAlign:'center',textVerticalAlign:'middle'}},
  {type:'text',silent:true,z:10,x:907.5,y:491,style:{text:captions[1],font:'38.7px "Noto Sans"',fill:'#333',textAlign:'center',textVerticalAlign:'middle'}},
  {type:'text',silent:true,z:10,x:1509,y:461,style:{text:captions[2],font:'38.7px "Noto Sans"',fill:'#333',textAlign:'center',textVerticalAlign:'middle'}},
  {type:'text',silent:true,z:11,x:1803,y:539,style:{text:watermark,font:'16px "Liberation Sans"',fill:'rgba(200,200,200,0.8)',textAlign:'right',textVerticalAlign:'middle'}}
 ]};
const chart=echarts.init(document.getElementById('c'),null,{renderer:'canvas'});
chart.setOption(option);
</script></body></html>
